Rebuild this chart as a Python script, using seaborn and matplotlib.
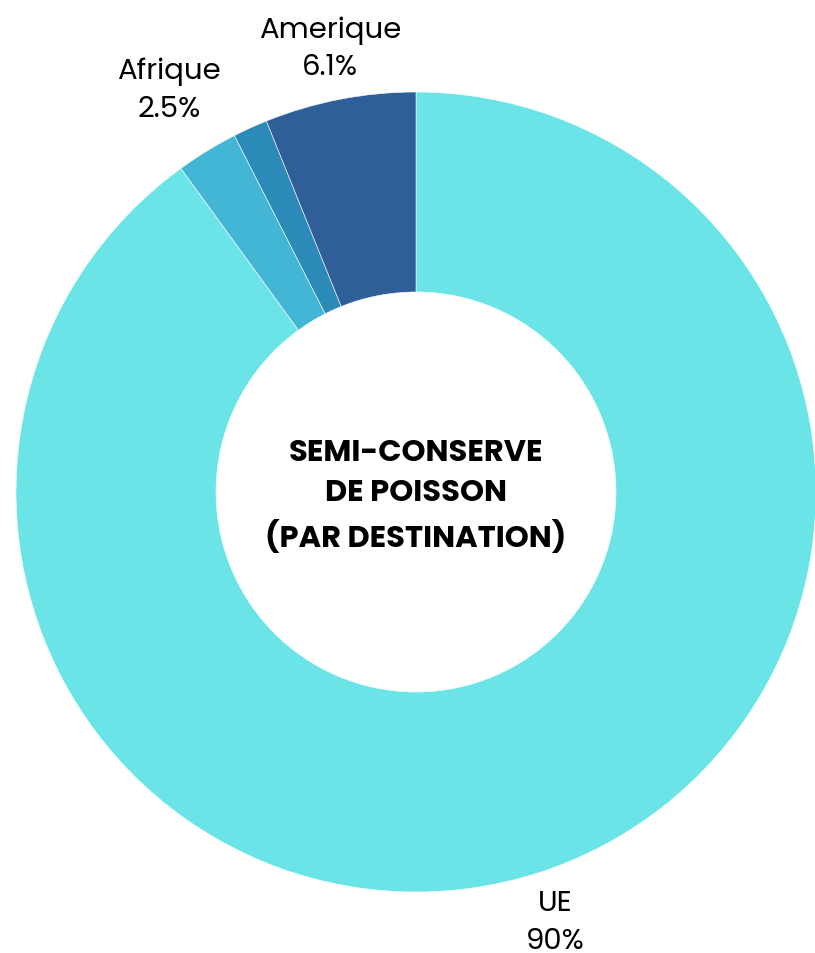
import numpy as np
import seaborn as sns
import matplotlib.pyplot as plt

# destinations, clockwise from 12 o'clock
destinations = ['UE', 'Afrique', 'Autres', 'Amerique']
shares = [90.0, 2.5, 1.4, 6.1]
show_label = [True, True, False, True]
label_text = ['UE\n90%', 'Afrique\n2.5%', '', 'Amerique\n6.1%']
colors = ['#6be4e8', '#43b6d5', '#2c8ab8', '#2e5f98']

sns.set_theme(style='white')
plt.rcParams['font.family'] = ['Poppins', 'DejaVu Sans']

fig = plt.figure(figsize=(8.15, 9.54), dpi=100)
ax = fig.add_axes([0, 0, 1, 1])

center = (416, 461)
radius = 400
wedges, _ = ax.pie(shares, colors=colors, startangle=90, counterclock=False,
                   center=center, radius=radius,
                   wedgeprops=dict(width=radius * 0.5, edgecolor='white', linewidth=0.4))

# labels outside, at each slice's mid angle
label_dist = [1.13, 1.18, 1.1, 1.13]
for w, show, txt, d in zip(wedges, show_label, label_text, label_dist):
    if not show:
        continue
    mid = np.deg2rad((w.theta1 + w.theta2) / 2)
    x = center[0] + radius * d * np.cos(mid)
    y = center[1] + radius * d * np.sin(mid)
    ax.text(x, y, txt, ha='center', va='center', fontsize=21,
            color='black', linespacing=1.45)

ax.text(center[0], center[1] - 4, 'SEMI-CONSERVE\nDE POISSON\n(PAR DESTINATION)',
        ha='center', va='center', fontsize=22, fontweight='bold',
        color='black', linespacing=1.45)

ax.set_xlim(0, 815)
ax.set_ylim(0, 954)
ax.set_aspect('equal')
ax.axis('off')

fig.savefig('out.png', dpi=100, facecolor='white')
